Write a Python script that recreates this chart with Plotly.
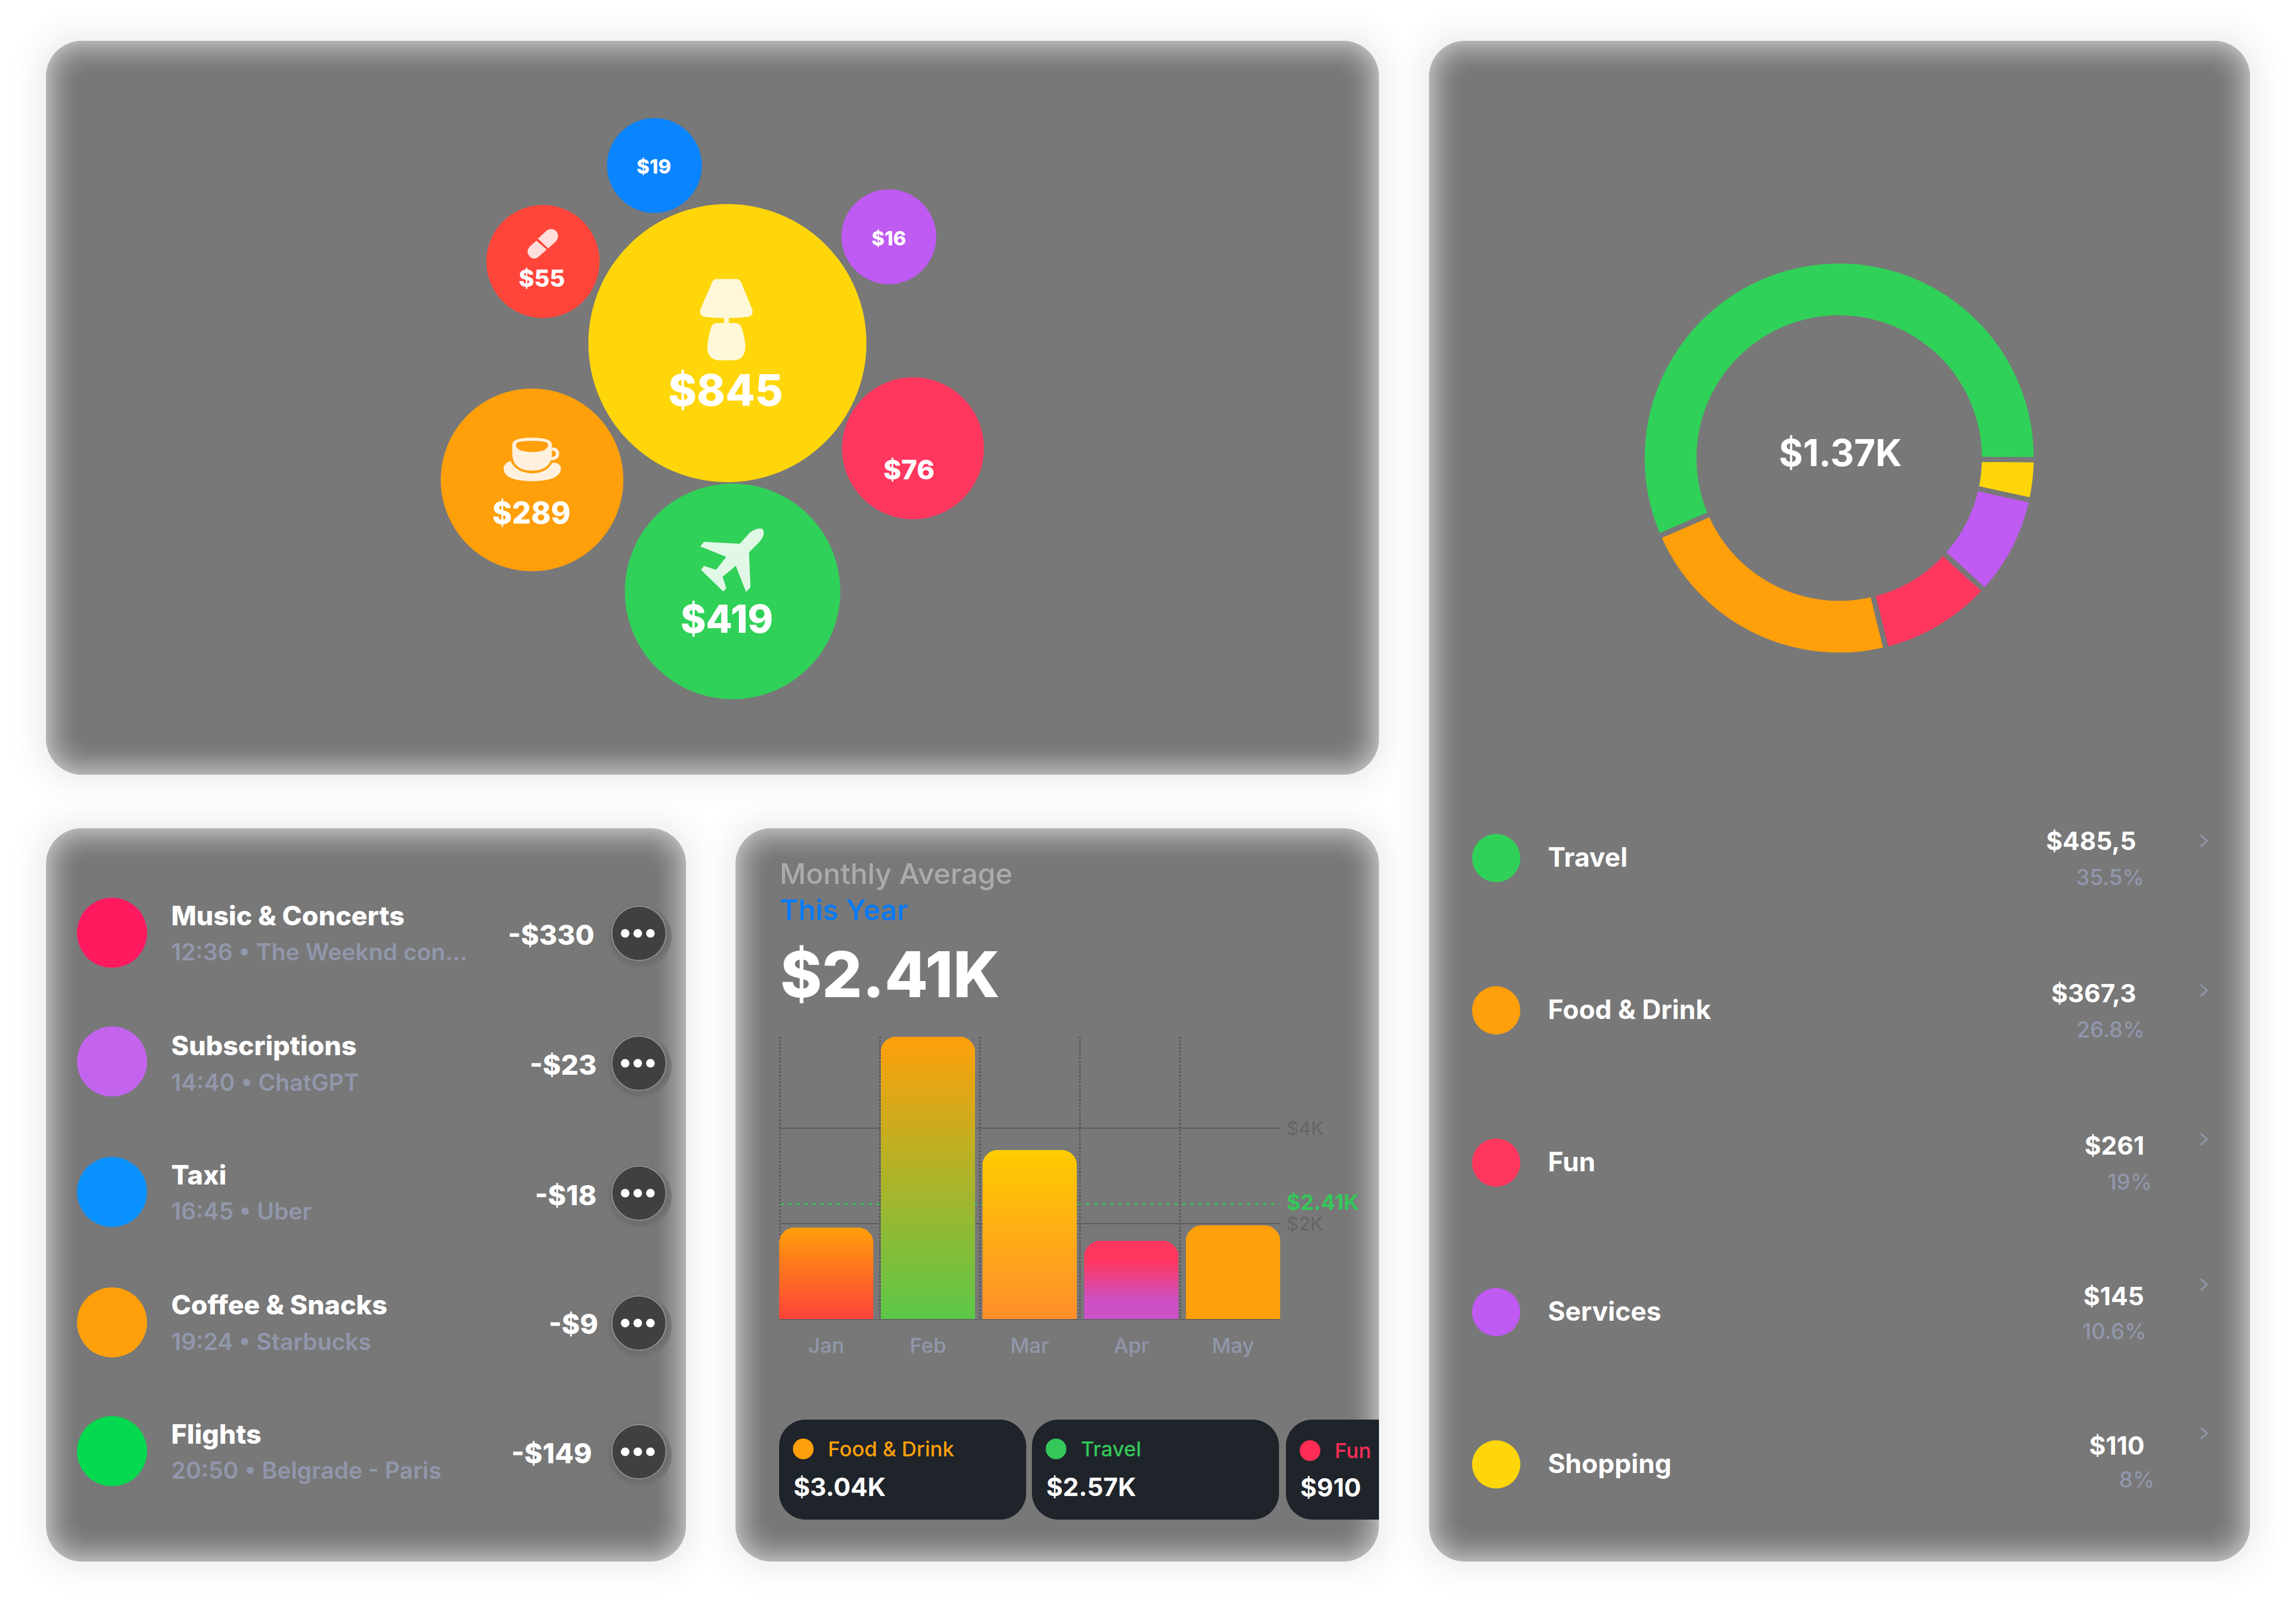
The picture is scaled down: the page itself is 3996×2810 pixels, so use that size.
import re
import plotly.graph_objects as go

# ---- Data ----------------------------------------------------------------
BUBBLE_VALUES = [845, 419, 289, 76, 55, 19, 16]
BUBBLE_LABELS = ["$845", "$419", "$289", "$76", "$55", "$19", "$16"]

TX_TITLES = ["Music &amp; Concerts", "Subscriptions", "Taxi", "Coffee &amp; Snacks", "Flights"]
TX_DETAILS = ["12:36 • The Weeknd con...", "14:40 • ChatGPT", "16:45 • Uber",
              "19:24 • Starbucks", "20:50 • Belgrade - Paris"]
TX_AMOUNTS = ["-$330", "-$23", "-$18", "-$9", "-$149"]

MONTHS = ["Jan", "Feb", "Mar", "Apr", "May"]
MONTH_TOTALS = [1920, 5920, 3550, 1640, 1960]
AVERAGE_VALUE = 2410
AVERAGE_LABEL = "$2.41K"
VALUE_TICKS = [2000, 4000]
VALUE_TICK_LABELS = ["$2K", "$4K"]

PILL_NAMES = ["Food &amp; Drink", "Travel", "Fun"]
PILL_VALUES = ["$3.04K", "$2.57K", "$910"]

RING_NAMES = ["Travel", "Food & Drink", "Fun", "Services", "Shopping"]
RING_SHARES = [56.6, 22.3, 9.4, 8.3, 3.3]   # arc shares as the ring draws them
RING_TOTAL = "$1.37K"
ROW_NAMES = ["Travel", "Food &amp; Drink", "Fun", "Services", "Shopping"]
ROW_AMOUNTS = ["$485,5", "$367,3", "$261", "$145", "$110"]
ROW_PERCENTS = ["35.5%", "26.8%", "19%", "10.6%", "8%"]

# ---- Styles and layout ---------------------------------------------------
W, H = 3996, 2810
FONT = "Inter, 'Noto Sans', sans-serif"
CARD = "#787878"
GREY_TEXT = "#9197AB"
YELLOW, GREEN, ORANGE, PINK = "#FFD60A", "#30D158", "#FF9F0A", "#FF375F"
RED, BLUE, PURPLE = "#FF453A", "#0A84FF", "#BF5AF2"

CARDS = [(80, 71, 2400, 1348), (80, 1441, 1194, 2717),
         (1280, 1441, 2400, 2717), (2487, 71, 3916, 2717)]
CARD_RADIUS = 62

BUBBLE_COLORS = [YELLOW, GREEN, ORANGE, PINK, RED, BLUE, PURPLE]
BUBBLE_X = [1266, 1275, 926, 1589, 945, 1139, 1547]
BUBBLE_Y = [597, 1029, 835, 780, 455, 288, 412]
BUBBLE_D = [484, 375, 318, 247, 197, 165, 165]
BUBBLE_TEXT_X = [1263, 1265, 925, 1582, 943, 1138, 1547]
BUBBLE_TEXT_Y = [687, 1084, 898, 822, 489, 293, 418]
BUBBLE_TEXT_SIZE = [75, 67, 52, 47, 41, 34, 34]

TX_COLORS = ["#FF1A60", "#C464EE", "#0A90FF", ORANGE, "#05D94F"]
TX_DOT_Y = [1623, 1847, 2074, 2301, 2525]
TX_TITLE_Y = [1593, 1819, 2044, 2270, 2495]
TX_DETAIL_Y = [1656, 1883, 2107, 2334, 2558]
TX_AMOUNT_Y = [1626, 1852, 2079, 2303, 2528]
TX_AMOUNT_RIGHT = [1036, 1039, 1039, 1042, 1031]
TX_BUTTON_Y = [1624, 1850, 2076, 2302, 2526]

ROW_COLORS = [GREEN, ORANGE, PINK, PURPLE, YELLOW]
ROW_DOT_Y = [1493, 1758, 2023, 2283, 2548]
ROW_NAME_Y = [1491, 1756, 2021, 2281, 2546]
ROW_AMOUNT_Y = [1463, 1728, 1993, 2255, 2515]
ROW_AMOUNT_RIGHT = [3719, 3719, 3733, 3733, 3733]
ROW_PERCENT_Y = [1526, 1791, 2056, 2316, 2574]
ROW_PERCENT_RIGHT = [3733, 3733, 3746, 3736, 3751]
ROW_CHEVRON_Y = [1463, 1723, 1982, 2235, 2494]

# Vertical colour ramps of the month bars, top colour first
BAR_RAMPS = [
    [(0.0, "#FF9F0A"), (1.0, "#FF4238")],
    [(0.0, "#FF9F0A"), (1.0, "#5CC748")],
    [(0.0, "#FFCC00"), (1.0, "#FF8E2B")],
    [(0.0, "#FF375F"), (0.25, "#FF375F"), (0.75, "#CE50C4"), (1.0, "#CC50C8")],
    [(0.0, "#FF9F0A"), (1.0, "#FF9F0A")],
]
BAR_SLICES = 70
PLOT_X = (1356, 2228)
PLOT_Y = (1804, 2295)
PILLS = [(1356, 1786, ORANGE), (1796, 2226, "#34C759"), (2238, 2400, "#FF2D55")]
PILL_Y = (2470, 2644)
PILL_FILL = "#1F242B"


def mix(a, b, t):
    ca = [int(a[i:i + 2], 16) for i in (1, 3, 5)]
    cb = [int(b[i:i + 2], 16) for i in (1, 3, 5)]
    return "#%02X%02X%02X" % tuple(round(p + (q - p) * t) for p, q in zip(ca, cb))


def ramp_color(stops, t):
    for (t0, c0), (t1, c1) in zip(stops, stops[1:]):
        if t <= t1:
            return mix(c0, c1, (t - t0) / (t1 - t0))
    return stops[-1][1]


def round_rect(x0, y0, x1, y1, rx, ry=None, right=True):
    """Rounded rectangle path; right=False leaves the right-hand corners square."""
    ry = rx if ry is None else ry
    k = 0.45
    p = [f"M {x0 + rx},{y0}"]
    if right:
        p += [f"L {x1 - rx},{y0}",
              f"C {x1 - rx * k},{y0} {x1},{y0 + ry * k} {x1},{y0 + ry}",
              f"L {x1},{y1 - ry}",
              f"C {x1},{y1 - ry * k} {x1 - rx * k},{y1} {x1 - rx},{y1}"]
    else:
        p += [f"L {x1},{y0}", f"L {x1},{y1}"]
    p += [f"L {x0 + rx},{y1}",
          f"C {x0 + rx * k},{y1} {x0},{y1 - ry * k} {x0},{y1 - ry}",
          f"L {x0},{y0 + ry}",
          f"C {x0},{y0 + ry * k} {x0 + rx * k},{y0} {x0 + rx},{y0}", "Z"]
    return " ".join(p)


def main_shape(path, fill, layer="below"):
    return dict(type="path", path=path, xref="x", yref="y", fillcolor=fill,
                line=dict(width=0), layer=layer)


shapes = []

# Soft shadow around the cards, outermost ring first
SHADOW_STEPS = 14
for step in range(SHADOW_STEPS):
    grow = 4.5 * (SHADOW_STEPS - step)
    shade = mix("#FFFFFF", "#F3F3F3", ((step + 1) / SHADOW_STEPS) ** 1.5)
    for x0, y0, x1, y1 in CARDS:
        shapes.append(main_shape(round_rect(x0 - grow, y0 - grow, x1 + grow, y1 + grow,
                                            CARD_RADIUS + grow), shade))

# Card bodies: nested rounded rectangles fade from a pale rim to the flat fill
GLOW_STEPS = 28
for x0, y0, x1, y1 in CARDS:
    for step in range(GLOW_STEPS + 1):
        inset = 2.0 * step
        t = (1 - step / GLOW_STEPS) ** 1.7
        shapes.append(main_shape(
            round_rect(x0 + inset, y0 + inset, x1 - inset, y1 - inset,
                       max(CARD_RADIUS - inset * 0.6, 8)),
            mix(CARD, "#B4B4B4", t)))

# Legend pills under the bars; the last one runs off the card edge
for i, (x0, x1, _) in enumerate(PILLS):
    shapes.append(main_shape(round_rect(x0, PILL_Y[0], x1, PILL_Y[1], 46, right=i < 2), PILL_FILL))


# Icons are sketched in a local grid and mapped onto the bubble card
def icon(path, fill, layer="above"):
    def place(m):
        return f"{float(m.group(1)) / 1.568 + 750:.1f},{float(m.group(2)) / 1.479 + 180:.1f}"
    return main_shape(re.sub(r"(\d+(?:\.\d+)?),(\d+(?:\.\d+)?)", place, path), fill, layer)


LAMP = "#FFF8D8"
shapes += [
    icon("M775,452 L838,452 Q846,456 850,468 L876,528 Q882,546 866,549 Q806,556 746,549 "
         "Q730,546 736,528 L764,468 Q768,456 775,452 Z", LAMP),
    icon("M800,550 L813,550 L813,566 L800,566 Z", LAMP),
    icon("M778,565 L832,565 Q846,566 850,584 Q858,606 858,628 Q856,660 826,661 L786,661 "
         "Q756,660 754,628 Q756,606 762,584 Q766,566 778,565 Z", LAMP),
]
CUP = "#FFF1DE"
shapes += [
    icon("M222,878 Q222,860 276,860 Q330,860 330,878 L330,905 Q326,945 276,945 "
         "Q226,945 222,905 Z", CUP),
    icon("M232,878 Q232,868 276,868 Q320,868 320,878 Q320,897 276,897 Q232,897 232,878 Z", ORANGE),
    icon("M330,885 Q350,885 350,902 Q350,918 326,918 L326,910 Q340,910 341,902 Q340,893 330,893 Z", CUP),
    icon("M217,920 Q198,926 198,940 Q200,972 276,972 Q352,972 355,940 Q352,922 330,925 "
         "Q318,950 276,952 Q232,950 217,920 Z", CUP),
]
shapes.append(icon("M905,1095 Q890,1090 870,1105 L843,1133 L745,1128 L735,1140 L806,1167 L778,1200 "
                   "L745,1190 L737,1200 L798,1256 L806,1248 L796,1218 L832,1190 L860,1257 "
                   "L872,1245 L868,1155 L895,1130 Q915,1108 905,1095 Z", "#E1F8E7"))
PILL_ICON = "#FFDEDC"
shapes += [
    icon("M292,348 L316,327 Q330,318 343,330 Q352,342 341,355 L320,373 Z", PILL_ICON),
    icon("M288,353 L316,376 L292,396 Q278,404 268,392 Q258,380 270,368 Z", PILL_ICON),
]

# Chevrons of the category rows
for cy in ROW_CHEVRON_Y:
    shapes.append(dict(type="path", xref="x", yref="y", layer="above",
                       path=f"M 3830,{cy - 10} L 3841,{cy} L 3830,{cy + 10}",
                       line=dict(color=GREY_TEXT, width=3)))

annotations = []


def label(x, y, text, size, color, weight=400, anchor="left", xref="x", yref="y", yshift=0):
    annotations.append(dict(x=x, y=y, xref=xref, yref=yref, text=text, showarrow=False,
                            xanchor=anchor, yanchor="middle", borderpad=0, yshift=yshift,
                            font=dict(family=FONT, size=size, color=color, weight=weight)))


# Transactions list
for i in range(len(TX_TITLES)):
    label(297, TX_TITLE_Y[i], TX_TITLES[i], 46.5, "#FFFFFF", 800)
    label(297, TX_DETAIL_Y[i], TX_DETAILS[i], 40.5, GREY_TEXT, 600)
    label(TX_AMOUNT_RIGHT[i], TX_AMOUNT_Y[i], TX_AMOUNTS[i], 48, "#FFFFFF", 800, "right")

# Bar card headings
label(1356, 1520, "Monthly Average", 50, "#ABABAB", 500)
label(1356, 1583, "This Year", 50, "#007AFF", 500)
label(1357, 1695, "$2.41K", 110, "#FFFFFF", 800)
for (x0, _, color), name, value, val_y, name_y in zip(
        PILLS, PILL_NAMES, PILL_VALUES, (2587, 2587, 2588), (2521, 2521, 2524)):
    label(x0 + 84, name_y, name, 36, color, 500)
    label(x0 + 24, val_y, value, 44, "#FFFFFF", 700)

# Category rows
for i in range(len(ROW_NAMES)):
    label(2693, ROW_NAME_Y[i], ROW_NAMES[i], 46, "#FFFFFF", 700)
    label(ROW_AMOUNT_RIGHT[i], ROW_AMOUNT_Y[i], ROW_AMOUNTS[i], 44, "#FFFFFF", 700, "right")
    label(ROW_PERCENT_RIGHT[i], ROW_PERCENT_Y[i], ROW_PERCENTS[i], 38, GREY_TEXT, 500, "right")

label(3203, 787, RING_TOTAL, 64, "#FFFFFF", 700, "center")

fig = go.Figure()


def dots(x, y, size, color, line=None):
    fig.add_trace(go.Scatter(x=x, y=y, mode="markers", hoverinfo="skip", showlegend=False,
                             marker=dict(size=size, color=color, opacity=1,
                                         line=line or dict(width=0))))


# Bubbles
dots(BUBBLE_X, BUBBLE_Y, BUBBLE_D, BUBBLE_COLORS)
fig.add_trace(go.Scatter(
    x=BUBBLE_TEXT_X, y=BUBBLE_TEXT_Y, text=BUBBLE_LABELS, mode="text",
    textposition="middle center", hoverinfo="skip", showlegend=False,
    textfont=dict(family=FONT, size=BUBBLE_TEXT_SIZE, color="#FFFFFF", weight=800),
))

# Transaction dots and their menu buttons
tx_x = [195] * len(TX_TITLES)
dots(tx_x, TX_DOT_Y, 122, TX_COLORS)
btn_x = [1112] * len(TX_TITLES)
for grow, shade in ((114, "#767676"), (108, "#737373"), (102, "#6E6E6E")):
    dots(btn_x, [y + 5 for y in TX_BUTTON_Y], grow, shade)
dots(btn_x, TX_BUTTON_Y, 94, "#404040", dict(width=1.5, color="#9A9A9A"))
for offset in (-22, 0, 22):
    dots([x + offset - 2 for x in btn_x], TX_BUTTON_Y, 15, "#FFFFFF")

# Category row dots and pill dots
dots([2604] * len(ROW_NAMES), ROW_DOT_Y, 84, ROW_COLORS)
dots([p[0] + 42 for p in PILLS], [2521, 2521, 2524], 36, ["#FF9F0A", "#34C759", "#FF2D55"])

# Month bars: each bar is a stack of thin slices that carry its colour ramp
for s in range(BAR_SLICES):
    t = 1 - (s + 0.5) / BAR_SLICES
    fig.add_trace(go.Bar(
        x=list(range(len(MONTHS))), y=[v / BAR_SLICES for v in MONTH_TOTALS],
        width=0.927, xaxis="x2", yaxis="y2", hoverinfo="skip", showlegend=False,
        marker=dict(color=[ramp_color(r, t) for r in BAR_RAMPS], line=dict(width=0)),
    ))

# Average line sits behind the bars
shapes.append(dict(type="line", xref="x2", yref="y2", layer="below",
                   x0=-0.452, x1=4.46, y0=AVERAGE_VALUE, y1=AVERAGE_VALUE,
                   line=dict(color="#34C759", width=3, dash="6px,8px")))
label(2238, AVERAGE_VALUE, AVERAGE_LABEL, 37, "#34C759", 700, xref="x", yref="y2", yshift=4)

# Spending ring: the first slice starts just under three o'clock and runs anticlockwise
plot_d = 686
fig.add_trace(go.Pie(
    labels=RING_NAMES, values=RING_SHARES, sort=False, direction="counterclockwise",
    rotation=90.5 - 360 * RING_SHARES[0] / sum(RING_SHARES),
    hole=0.711, textinfo="none", hoverinfo="skip", showlegend=False,
    marker=dict(colors=[GREEN, ORANGE, PINK, PURPLE, YELLOW], line=dict(color=CARD, width=9)),
    domain=dict(x=[(3201 - plot_d / 2) / W, (3201 + plot_d / 2) / W],
                y=[1 - (797 + plot_d / 2) / H, 1 - (797 - plot_d / 2) / H]),
))

fig.update_layout(
    width=W, height=H, autosize=False, margin=dict(l=0, r=0, t=0, b=0),
    paper_bgcolor="#FFFFFF", plot_bgcolor="rgba(0,0,0,0)", showlegend=False,
    barmode="stack", barcornerradius=26, bargap=0,
    shapes=shapes, annotations=annotations,
    font=dict(family=FONT),
    xaxis=dict(range=[0, W], domain=[0, 1], visible=False, fixedrange=True),
    yaxis=dict(range=[H, 0], domain=[0, 1], visible=False, fixedrange=True),
    xaxis2=dict(
        range=[-0.463, 4.463], domain=[PLOT_X[0] / W, PLOT_X[1] / W], anchor="y2",
        tickmode="array", tickvals=list(range(len(MONTHS))), ticktext=MONTHS,
        tickfont=dict(family=FONT, size=36, color=GREY_TEXT, weight=500), ticks="",
        ticklabelstandoff=14,
        showgrid=False, zeroline=False, showline=True, linecolor="#636363", linewidth=2,
        fixedrange=True,
        minor=dict(tickmode="array", tickvals=[-0.452 + 0.983 * i for i in range(len(MONTHS))],
                   showgrid=True, griddash="3px,3px", gridcolor="#555555", gridwidth=3, ticks=""),
    ),
    yaxis2=dict(
        range=[0, MONTH_TOTALS[1]], domain=[1 - PLOT_Y[1] / H, 1 - PLOT_Y[0] / H], anchor="x2",
        side="right", tickmode="array", tickvals=VALUE_TICKS, ticktext=VALUE_TICK_LABELS,
        tickfont=dict(family=FONT, size=33, color="#636569"), ticks="", ticklabelstandoff=10,
        showgrid=True, gridcolor="#5C5C5C", gridwidth=2, zeroline=False, showline=False,
        fixedrange=True,
    ),
)
fig.write_html("out.html", config=dict(displayModeBar=False))
